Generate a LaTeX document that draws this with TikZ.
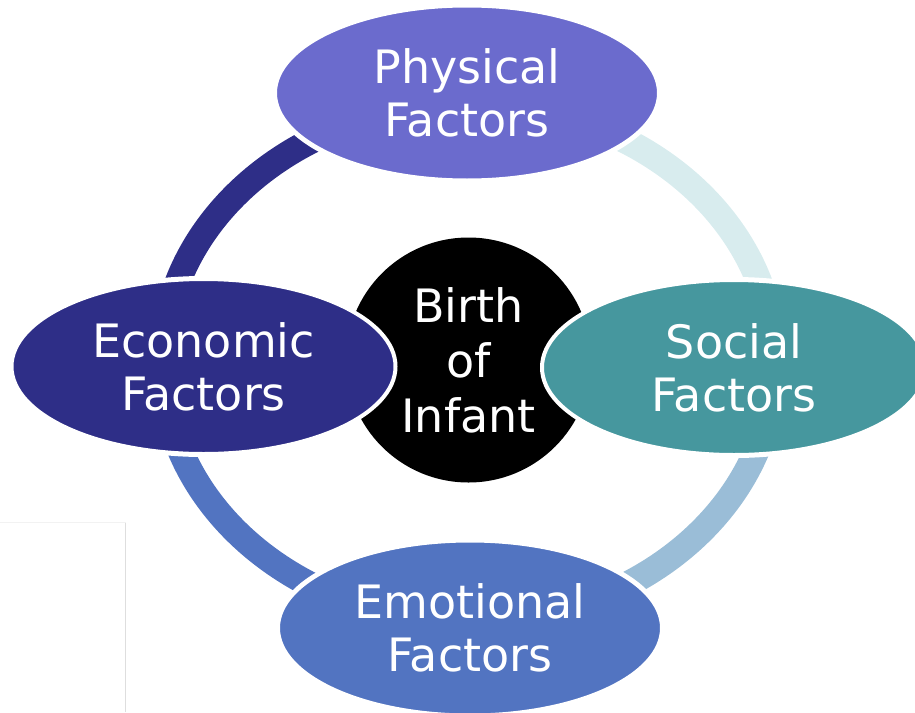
\documentclass[tikz,border=0pt]{standalone}
\usepackage{fontspec}
\setmainfont{DejaVu Sans}
\usetikzlibrary{shapes.geometric}

\definecolor{physc}{HTML}{6B6BCD}
\definecolor{econc}{HTML}{2E2E87}
\definecolor{socc}{HTML}{46979E}
\definecolor{emoc}{HTML}{5274C1}
\definecolor{arcpale}{HTML}{D8ECEE}
\definecolor{arcsky}{HTML}{9ABDD7}

\begin{document}
\begin{tikzpicture}[x=1pt,y=-1pt,
  factor/.style={ellipse, draw=white, line width=4pt,
    minimum width=384pt, minimum height=175pt, inner sep=0pt,
    text=white, align=center, font=\fontsize{46}{53}\selectfont},
  hub/.style={circle, fill=black, minimum size=245pt, inner sep=0pt,
    text=white, align=center, font=\fontsize{46}{55}\selectfont},
  ringarc/.style={line width=26pt},
  halo/.style={fill=white}]
\useasboundingbox (0,0) rectangle (915,712);

% faint frame in the lower left corner
\draw[black!13, line width=1pt] (125.5,712) -- (125.5,522);
\draw[black!5, line width=1pt] (0,522) -- (125.5,522);

% centres
\coordinate (rc) at (468.5,363);
\coordinate (pc) at (467,93);
\coordinate (ec) at (203.5,366.5);
\coordinate (sc) at (734,367.5);
\coordinate (mc) at (470,628);
\coordinate (hc) at (468.5,360);

% elliptical ring, one colour per quarter
\draw[ringarc, draw=econc]   ([shift={(-306,0)}]rc) arc[start angle=180, end angle=270, x radius=306, y radius=259];
\draw[ringarc, draw=arcpale] ([shift={(0,-259)}]rc) arc[start angle=270, end angle=360, x radius=306, y radius=259];
\draw[ringarc, draw=arcsky]  ([shift={(306,0)}]rc)  arc[start angle=0, end angle=90, x radius=306, y radius=259];
\draw[ringarc, draw=emoc]    ([shift={(0,259)}]rc)  arc[start angle=90, end angle=180, x radius=306, y radius=259];

% white halos that cut the ring ends
\fill[halo] (pc) ellipse [x radius=195, y radius=90.5];
\fill[halo] (ec) ellipse [x radius=195, y radius=90.5];
\fill[halo] (sc) ellipse [x radius=195, y radius=90.5];
\fill[halo] (mc) ellipse [x radius=195, y radius=90.5];

% hub
\node[hub] (hub) at (hc) {Birth\\of\\Infant};

% factors
\node[factor, fill=physc] (phys) at (pc) {Physical\\Factors};
\node[factor, fill=econc] (econ) at (ec) {Economic\\Factors};
\node[factor, fill=socc]  (soc)  at (sc) {Social\\Factors};
\node[factor, fill=emoc]  (emo)  at (mc) {Emotional\\Factors};
\end{tikzpicture}
\end{document}
